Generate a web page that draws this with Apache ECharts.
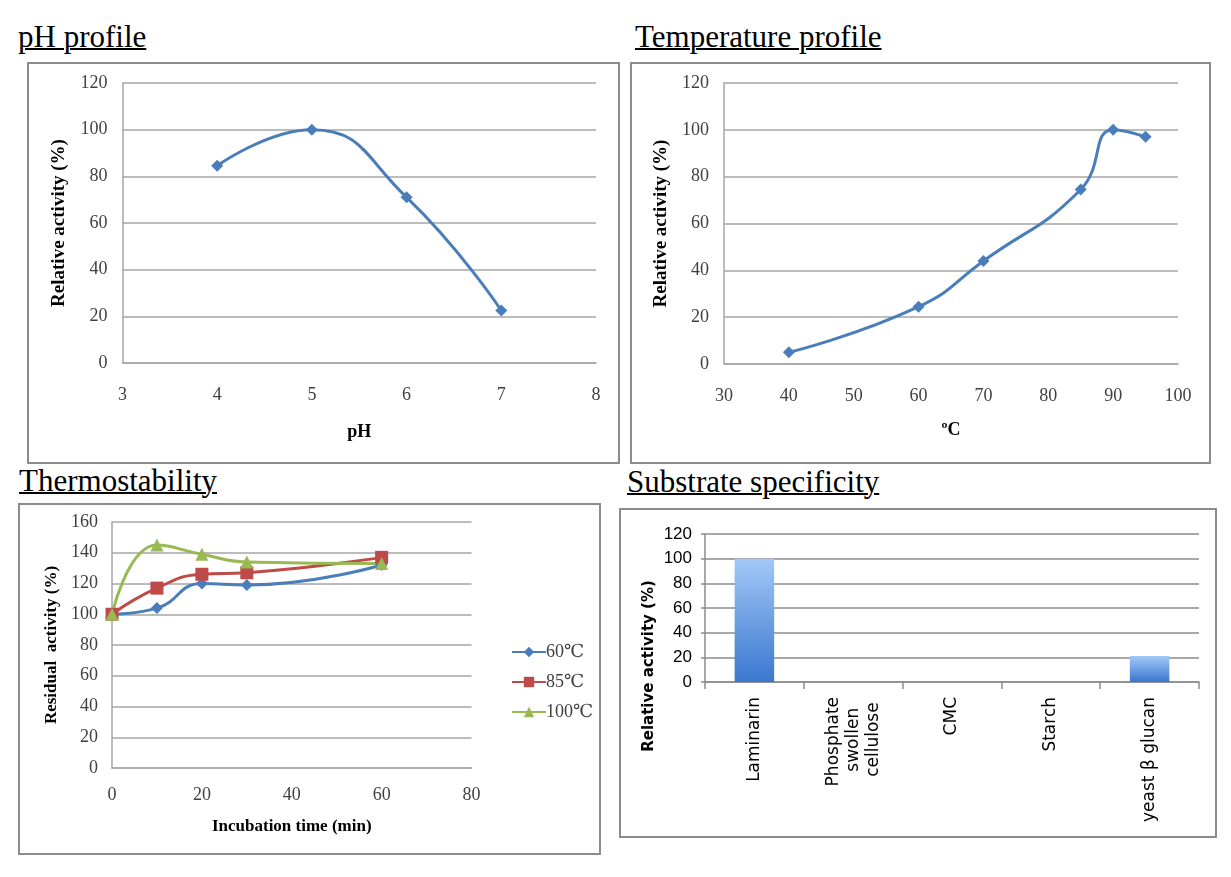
<!-- four enzyme characterisation panels, one echarts instance per box -->
<html>
<head>
<meta charset="utf-8">
<script src="https://cdn.jsdelivr.net/npm/echarts@6/dist/echarts.min.js"></script>
<style>
  body { margin: 0; background: #fff; width: 1231px; height: 877px; position: relative; overflow: hidden; }
  .ttl { position: absolute; font-family: "Liberation Serif", "DejaVu Serif", serif; font-size: 31px;
         line-height: 31px; text-decoration: underline; text-decoration-thickness: 2px; color: #000; white-space: nowrap; }
  .box { position: absolute; border: 2px solid #8c8c8c; box-sizing: border-box; background: #fff; }
</style>
</head>
<body>

<div class="ttl" style="left:18px; top:21px;">pH profile</div>
<div class="ttl" style="left:635px; top:21px;">Temperature profile</div>
<div class="ttl" style="left:19px; top:465px;">Thermostability</div>
<div class="ttl" style="left:627px; top:466px;">Substrate specificity</div>

<div class="box" id="ph" style="left:27px; top:62px; width:593px; height:402px;"></div>
<div class="box" id="temp" style="left:630px; top:62px; width:581px; height:402px;"></div>
<div class="box" id="stab" style="left:18px; top:503px; width:583px; height:352px;"></div>
<div class="box" id="subs" style="left:619px; top:508px; width:598px; height:330px;"></div>

<script>
// ---- data ----
var phX = [4, 5, 6, 7];
var phY = [84.5, 100, 71, 22.5];

var tempX = [40, 60, 70, 85, 90, 95];
var tempY = [5, 24.5, 44, 74.5, 100, 97];

var timeX = [0, 10, 20, 30, 60];
var act60 = [100, 104, 120, 119, 132];
var act85 = [100, 117, 126, 127, 137];
var act100 = [100, 145, 139, 134, 133];

var substrates = ['Laminarin', 'Phosphate\nswollen\ncellulose', 'CMC', 'Starch', 'yeast β glucan'];
var substrateAct = [100, 0, 0, 0, 21];

// ---- shared styles ----
var serif = '"Liberation Serif", "DejaVu Serif", serif';
var gridGray = '#a6a6a6';
var blue = '#4a7ebb', red = '#be4b48', green = '#98b954';

function pairs(xs, ys) {
    return xs.map(function (x, i) { return [x, ys[i]]; });
}

function valueAxis(min, max, step, margin, name, gap, nameSize, grid) {
    return {
        type: 'value', min: min, max: max, interval: step,
        name: name, nameLocation: 'middle', nameGap: gap,
        nameTextStyle: { fontFamily: serif, fontSize: nameSize, fontWeight: 'bold', color: '#000' },
        axisLine: { show: true, lineStyle: { color: gridGray, width: 1.5 } },
        axisTick: { show: false },
        axisLabel: { margin: margin, fontFamily: serif, fontSize: 18, color: '#404040' },
        splitLine: { show: grid, lineStyle: { color: gridGray, width: 1.5 } }
    };
}

function lineSeries(name, data, color, symbol, size) {
    return {
        name: name, type: 'line', data: data, smooth: 0.5,
        symbol: symbol, symbolSize: size,
        lineStyle: { color: color, width: 3 },
        itemStyle: { color: color },
        emphasis: { disabled: true }
    };
}

// ---- pH profile ----
var phChart = echarts.init(document.getElementById('ph'));
phChart.setOption({
    animation: false,
    grid: { left: 93.5, top: 19, width: 473.5, height: 280 },
    xAxis: valueAxis(3, 8, 1, 23, 'pH', 60, 18, false),
    yAxis: valueAxis(0, 120, 20, 15, 'Relative activity (%)', 54, 19, true),
    series: [lineSeries('pH', pairs(phX, phY), blue, 'diamond', 12)]
});

// ---- temperature profile ----
var tempChart = echarts.init(document.getElementById('temp'));
tempChart.setOption({
    animation: false,
    grid: { left: 92, top: 19, width: 454, height: 281 },
    xAxis: valueAxis(30, 100, 10, 23, 'ºC', 57, 18, false),
    yAxis: valueAxis(0, 120, 20, 15, 'Relative activity (%)', 53, 19, true),
    series: [lineSeries('temp', pairs(tempX, tempY), blue, 'diamond', 12)]
});

// ---- thermostability ----
var stabChart = echarts.init(document.getElementById('stab'));
stabChart.setOption({
    animation: false,
    grid: { left: 92, top: 17, width: 359.5, height: 246 },
    xAxis: valueAxis(0, 80, 20, 18, 'Incubation time (min)', 50, 17, false),
    yAxis: valueAxis(0, 160, 20, 14, 'Residual  activity (%)', 52, 17, true),
    legend: {
        orient: 'vertical', left: 486, top: 133, itemGap: 12,
        itemWidth: 34, itemHeight: 13,
        textStyle: { fontFamily: serif, fontSize: 18, lineHeight: 17, color: '#404040', padding: [0, 0, 0, -5] },
        data: ['60℃', '85℃', '100℃']
    },
    series: [
        lineSeries('60℃', pairs(timeX, act60), blue, 'diamond', 12),
        lineSeries('85℃', pairs(timeX, act85), red, 'rect', 13),
        lineSeries('100℃', pairs(timeX, act100), green, 'triangle', 13)
    ]
});

// ---- substrate specificity ----
var sans = '"DejaVu Sans", Verdana, sans-serif';
var catFont = '17px ' + sans;

// centre the lines of a wrapped label by padding the short ones with spaces
var measureCtx = document.createElement('canvas').getContext('2d');
measureCtx.font = catFont;
function centreLines(v) {
    var lines = v.split('\n');
    if (lines.length < 2) return v;
    var widths = lines.map(function (s) { return measureCtx.measureText(s).width; });
    var maxW = Math.max.apply(null, widths);
    var sp = measureCtx.measureText(' ').width;
    return lines.map(function (s, i) {
        var n = Math.round((maxW - widths[i]) / 2 / sp);
        return s + new Array(n + 1).join(' ');
    }).join('\n');
}

var subsChart = echarts.init(document.getElementById('subs'));
subsChart.setOption({
    animation: false,
    grid: { left: 84, top: 24, width: 494, height: 148 },
    // Excel centres this title on the whole panel, not on the plot, so it is placed by hand
    graphic: [{
        type: 'text', x: 28.5, y: 156, rotation: Math.PI / 2,
        style: {
            text: 'Relative activity (%)', fill: '#000',
            font: 'bold 15px ' + sans, textAlign: 'center', textVerticalAlign: 'middle'
        }
    }],
    xAxis: {
        type: 'category', data: substrates,
        axisLine: { lineStyle: { color: '#8c8c8c', width: 1.5 } },
        axisTick: { show: true, length: 7, lineStyle: { color: '#8c8c8c', width: 1.5 } },
        axisLabel: {
            rotate: 90, margin: 15, interval: 0, color: '#000',
            fontFamily: sans, fontSize: 17, lineHeight: 20,
            formatter: centreLines
        }
    },
    yAxis: {
        type: 'value', min: 0, max: 120, interval: 20,
        axisLine: { show: true, lineStyle: { color: '#8c8c8c', width: 1.5 } },
        axisTick: { show: true, length: 4, lineStyle: { color: '#8c8c8c', width: 1.5 } },
        axisLabel: { margin: 13, fontFamily: '"Liberation Sans Narrow", "Liberation Sans", sans-serif', fontSize: 17, color: '#000' },
        splitLine: { lineStyle: { color: '#8c8c8c', width: 1.5 } }
    },
    series: [{
        type: 'bar', data: substrateAct, barWidth: '40%',
        itemStyle: {
            color: new echarts.graphic.LinearGradient(0, 0, 0, 1, [
                { offset: 0, color: '#a2c8f7' },
                { offset: 1, color: '#3a77cf' }
            ])
        },
        emphasis: { disabled: true }
    }]
});
</script>
</body>
</html>
